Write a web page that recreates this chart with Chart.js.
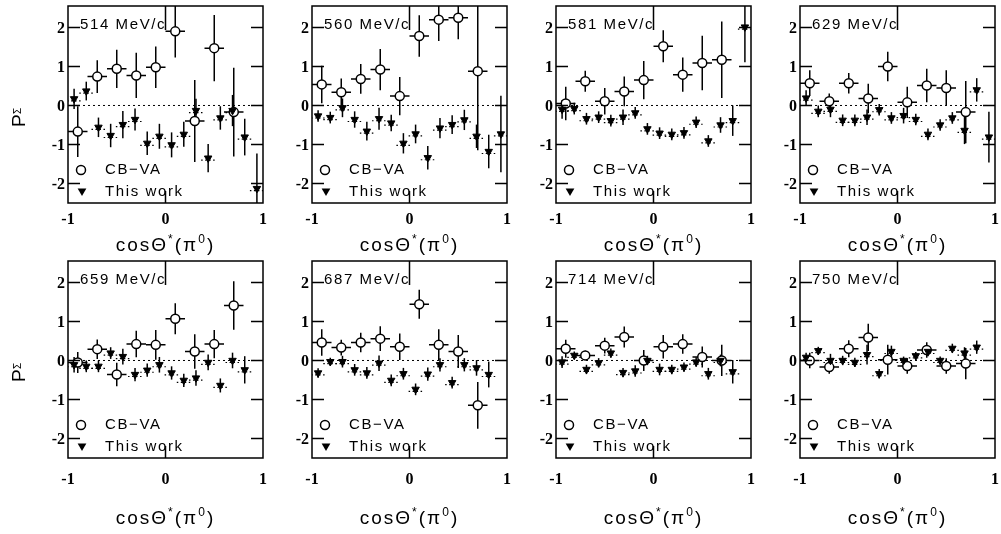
<!DOCTYPE html>
<html>
<head>
<meta charset="utf-8">
<script src="https://cdn.jsdelivr.net/npm/chart.js@4.4.1/dist/chart.umd.min.js"></script>
<style>
  html, body { margin: 0; padding: 0; background: #fff; }
  #page { position: relative; width: 1001px; height: 534px; overflow: hidden; background: #fff; }
  #page canvas { position: absolute; }
</style>
</head>
<body>
<div id="page"></div>
<script>
// bin centres in cos(theta*)
const cbX = [-0.9, -0.7, -0.5, -0.3, -0.1, 0.1, 0.3, 0.5, 0.7];
const twX = [-0.9375, -0.8125, -0.6875, -0.5625, -0.4375, -0.3125, -0.1875, -0.0625,
             0.0625, 0.1875, 0.3125, 0.4375, 0.5625, 0.6875, 0.8125, 0.9375];
const xTicks = [-1, 0, 1];
const yTicks = [-2, -1, 0, 1, 2];
const momenta = [514, 560, 581, 629, 659, 687, 714, 750];

// 514 MeV/c
const cbVa514 = [-0.67, 0.74, 0.94, 0.77, 0.98, 1.90, -0.40, 1.47, -0.17];
const cbVaErr514 = [0.65, 0.42, 0.49, 0.58, 0.53, 0.67, 1.05, 0.85, 1.14];
const thisWork514 = [0.17, 0.37, -0.56, -0.77, -0.49, -0.36, -0.97, -0.79, -1.01, -0.74, -0.13, -1.35, -0.32, -0.13, -0.81, -2.13];
const thisWorkErr514 = [0.26, 0.24, 0.25, 0.30, 0.35, 0.28, 0.30, 0.32, 0.32, 0.32, 0.30, 0.36, 0.30, 0.40, 0.47, 0.90];

// 560 MeV/c
const cbVa560 = [0.54, 0.34, 0.68, 0.92, 0.24, 1.78, 2.20, 2.25, 0.88];
const cbVaErr560 = [0.48, 0.35, 0.38, 0.53, 0.49, 0.53, 0.55, 0.55, 2.03];
const thisWork560 = [-0.27, -0.31, -0.06, -0.36, -0.66, -0.34, -0.45, -0.97, -0.73, -1.34, -0.58, -0.49, -0.37, -0.79, -1.18, -0.73];
const thisWorkErr560 = [0.15, 0.15, 0.24, 0.21, 0.24, 0.28, 0.21, 0.26, 0.24, 0.30, 0.26, 0.24, 0.26, 0.30, 0.43, 0.98];

// 581 MeV/c
const cbVa581 = [0.05, 0.62, 0.11, 0.36, 0.65, 1.52, 0.79, 1.09, 1.17];
const cbVaErr581 = [0.43, 0.27, 0.34, 0.38, 0.49, 0.41, 0.44, 0.70, 0.98];
const thisWork581 = [-0.10, -0.08, -0.34, -0.30, -0.39, -0.30, -0.19, -0.60, -0.71, -0.74, -0.70, -0.43, -0.91, -0.50, -0.39, 2.01];
const thisWorkErr581 = [0.24, 0.15, 0.15, 0.15, 0.15, 0.20, 0.15, 0.15, 0.15, 0.15, 0.15, 0.15, 0.15, 0.20, 0.39, 0.90];

// 629 MeV/c
const cbVa629 = [0.57, 0.11, 0.57, 0.18, 1.00, 0.08, 0.51, 0.45, -0.17];
const cbVaErr629 = [0.33, 0.20, 0.26, 0.38, 0.38, 0.40, 0.43, 0.45, 0.80];
const thisWork629 = [0.19, -0.15, -0.10, -0.38, -0.38, -0.30, -0.11, -0.32, -0.26, -0.36, -0.74, -0.50, -0.32, -0.64, 0.40, -0.81];
const thisWorkErr629 = [0.20, 0.15, 0.20, 0.15, 0.15, 0.20, 0.15, 0.15, 0.20, 0.15, 0.15, 0.15, 0.15, 0.35, 0.30, 0.65];

// 659 MeV/c
const cbVa659 = [-0.05, 0.29, -0.36, 0.42, 0.40, 1.07, 0.23, 0.42, 1.41];
const cbVaErr659 = [0.27, 0.25, 0.30, 0.34, 0.38, 0.40, 0.44, 0.36, 0.62];
const thisWork659 = [-0.11, -0.15, -0.15, 0.19, 0.10, -0.36, -0.25, -0.11, -0.32, -0.51, -0.45, -0.05, -0.64, 0.00, -0.24, null];
const thisWorkErr659 = [0.20, 0.15, 0.15, 0.15, 0.20, 0.17, 0.17, 0.20, 0.17, 0.17, 0.20, 0.20, 0.18, 0.20, 0.35, null];

// 687 MeV/c
const cbVa687 = [0.46, 0.33, 0.46, 0.56, 0.35, 1.44, 0.40, 0.23, -1.15];
const cbVaErr687 = [0.34, 0.20, 0.25, 0.32, 0.34, 0.37, 0.40, 0.42, 0.60];
const thisWork687 = [-0.32, -0.03, -0.03, -0.24, -0.32, -0.07, -0.51, -0.34, -0.74, -0.35, -0.11, -0.57, -0.11, -0.19, -0.36, null];
const thisWorkErr687 = [0.12, 0.10, 0.15, 0.15, 0.15, 0.20, 0.15, 0.15, 0.15, 0.17, 0.17, 0.15, 0.17, 0.20, 0.33, null];

// 714 MeV/c
const cbVa714 = [0.30, 0.13, 0.38, 0.60, 0.00, 0.35, 0.42, 0.09, 0.00];
const cbVaErr714 = [0.23, 0.12, 0.20, 0.27, 0.27, 0.30, 0.25, 0.27, 0.40];
const thisWork714 = [-0.04, 0.13, -0.23, -0.06, 0.19, -0.31, -0.27, 0.00, -0.23, -0.23, -0.17, -0.04, -0.34, 0.00, -0.29, null];
const thisWorkErr714 = [0.15, 0.10, 0.12, 0.12, 0.12, 0.12, 0.15, 0.12, 0.15, 0.12, 0.12, 0.12, 0.15, 0.15, 0.30, null];

// 750 MeV/c
const cbVa750 = [0.00, -0.17, 0.30, 0.59, 0.02, -0.14, 0.27, -0.14, -0.08];
const cbVaErr750 = [0.20, 0.17, 0.22, 0.35, 0.38, 0.20, 0.20, 0.20, 0.40];
const thisWork750 = [0.08, 0.25, 0.00, 0.00, -0.05, 0.15, -0.34, 0.23, 0.00, 0.12, 0.23, 0.00, 0.31, 0.19, 0.34, null];
const thisWorkErr750 = [0.12, 0.10, 0.17, 0.12, 0.12, 0.25, 0.12, 0.15, 0.10, 0.10, 0.12, 0.10, 0.12, 0.15, 0.17, null];

const panels = [
  [cbVa514, cbVaErr514, thisWork514, thisWorkErr514],
  [cbVa560, cbVaErr560, thisWork560, thisWorkErr560],
  [cbVa581, cbVaErr581, thisWork581, thisWorkErr581],
  [cbVa629, cbVaErr629, thisWork629, thisWorkErr629],
  [cbVa659, cbVaErr659, thisWork659, thisWorkErr659],
  [cbVa687, cbVaErr687, thisWork687, thisWorkErr687],
  [cbVa714, cbVaErr714, thisWork714, thisWorkErr714],
  [cbVa750, cbVaErr750, thisWork750, thisWorkErr750],
];

// page layout (frame positions in px)
const frameLeft = [68, 312, 556, 800];
const frameTop = [5, 260];
const frameW = 199;
const frameH = 198;
// distance below the frame for tick labels / axis title, per row
const tickLabelGap = [17, 22];
const titleGap = [48, 66];

const SANS = '"Liberation Sans", Arial, Helvetica, sans-serif';
const SERIF = '"Liberation Serif", "Times New Roman", serif';

function toPoints(xs, ys, errs) {
  const pts = [];
  xs.forEach((x, i) => {
    if (ys[i] !== null) pts.push({ x: x, y: ys[i], err: errs[i] });
  });
  return pts;
}

function setSpacing(ctx, px) {
  if ("letterSpacing" in ctx) ctx.letterSpacing = px + "px";
}

function drawDownTriangle(ctx, x, y, r) {
  ctx.beginPath();
  ctx.moveTo(x - r * 0.87, y - r * 0.5);
  ctx.lineTo(x + r * 0.87, y - r * 0.5);
  ctx.lineTo(x, y + r);
  ctx.closePath();
  ctx.fill();
}

// zero line + error bars, under the markers
const errorBars = {
  id: "errorBars",
  beforeDatasetsDraw(chart) {
    const { ctx, chartArea: a, scales } = chart;
    const x = scales.x;
    const y = scales.y;
    ctx.save();
    ctx.beginPath();
    ctx.rect(a.left, a.top, a.right - a.left, a.bottom - a.top);
    ctx.clip();

    const y0 = y.getPixelForValue(0);
    ctx.strokeStyle = "#000";
    ctx.lineWidth = 1;
    ctx.setLineDash([2, 3]);
    ctx.beginPath();
    ctx.moveTo(a.left, y0);
    ctx.lineTo(a.right, y0);
    ctx.stroke();
    ctx.setLineDash([]);

    chart.data.datasets.forEach((ds) => {
      ds.data.forEach((pt) => {
        const px = x.getPixelForValue(pt.x);
        const py = y.getPixelForValue(pt.y);
        ctx.lineWidth = 1.5;
        ctx.beginPath();
        ctx.moveTo(px, y.getPixelForValue(pt.y + pt.err));
        ctx.lineTo(px, y.getPixelForValue(pt.y - pt.err));
        if (ds.xErr) {
          ctx.moveTo(x.getPixelForValue(pt.x - ds.xErr), py);
          ctx.lineTo(x.getPixelForValue(pt.x + ds.xErr), py);
        }
        ctx.stroke();
        if (ds.sysDots) {
          ctx.lineWidth = 1.2;
          ctx.setLineDash([1.5, 2.5]);
          ctx.beginPath();
          ctx.moveTo(px - 7, py + 2);
          ctx.lineTo(px + 7, py + 2);
          ctx.stroke();
          ctx.setLineDash([]);
        }
      });
    });
    ctx.restore();
  },
};

// frame, inner ticks, labels, legend
const frameAxes = {
  id: "frameAxes",
  afterDraw(chart) {
    const { ctx, chartArea: a, scales } = chart;
    const x = scales.x;
    const y = scales.y;
    const opts = chart.options.plugins.frameAxes;
    ctx.save();
    ctx.strokeStyle = "#000";
    ctx.fillStyle = "#000";
    ctx.lineWidth = 1.5;
    ctx.strokeRect(a.left, a.top, a.right - a.left, a.bottom - a.top);

    ctx.beginPath();
    yTicks.forEach((v) => {
      const py = y.getPixelForValue(v);
      ctx.moveTo(a.left, py);
      ctx.lineTo(a.left + 12, py);
      ctx.moveTo(a.right - 12, py);
      ctx.lineTo(a.right, py);
    });
    xTicks.forEach((v) => {
      if (v <= -1 || v >= 1) return;
      const px = x.getPixelForValue(v);
      ctx.moveTo(px, a.top);
      ctx.lineTo(px, a.top + 24);
      ctx.moveTo(px, a.bottom - 12);
      ctx.lineTo(px, a.bottom);
    });
    ctx.stroke();

    // tick labels
    ctx.font = "bold 16px " + SERIF;
    ctx.textAlign = "right";
    ctx.textBaseline = "middle";
    yTicks.forEach((v) => {
      ctx.fillText(String(v), a.left - 3, y.getPixelForValue(v) + 1);
    });
    ctx.textAlign = "center";
    xTicks.forEach((v) => {
      ctx.fillText(String(v), x.getPixelForValue(v), a.bottom + tickLabelGap[opts.row]);
    });

    // momentum label
    ctx.font = "15px " + SANS;
    setSpacing(ctx, 1.6);
    ctx.textAlign = "left";
    ctx.textBaseline = "alphabetic";
    ctx.fillText(opts.momentum + " MeV/c", a.left + 12, a.top + 23);

    // legend
    ctx.textBaseline = "middle";
    ctx.font = "15px " + SANS;
    ctx.fillText("CB\u2212VA", a.left + 37, a.top + 164);
    ctx.fillText("This work", a.left + 37, a.top + 186);
    setSpacing(ctx, 0);
    ctx.lineWidth = 1.5;
    ctx.beginPath();
    ctx.arc(a.left + 13, a.top + 164, 4.5, 0, Math.PI * 2);
    ctx.fillStyle = "#fff";
    ctx.fill();
    ctx.stroke();
    ctx.fillStyle = "#000";
    drawDownTriangle(ctx, a.left + 14, a.top + 185, 5);

    // x title: cosΘ*(π0)
    const parts = [
      { t: "cos\u0398", s: 19, dy: 0 },
      { t: "*", s: 12, dy: -8 },
      { t: "(\u03c0", s: 19, dy: 0 },
      { t: "0", s: 12, dy: -8 },
      { t: ")", s: 19, dy: 0 },
    ];
    setSpacing(ctx, 2);
    let total = 0;
    parts.forEach((p) => {
      ctx.font = p.s + "px " + SANS;
      p.w = ctx.measureText(p.t).width;
      total += p.w;
    });
    let tx = (a.left + a.right) / 2 - total / 2;
    const ty = a.bottom + titleGap[opts.row];
    ctx.textAlign = "left";
    ctx.textBaseline = "alphabetic";
    parts.forEach((p) => {
      ctx.font = p.s + "px " + SANS;
      ctx.fillText(p.t, tx, ty + p.dy);
      tx += p.w;
    });
    setSpacing(ctx, 0);

    // y title: P with subscript Σ
    if (opts.yTitle) {
      ctx.translate(13, a.top + 108);
      ctx.rotate(-Math.PI / 2);
      ctx.font = "19px " + SANS;
      ctx.fillText("P", -13, 12);
      ctx.font = "10px " + SANS;
      ctx.fillText("\u03a3", 0, 8);
    }
    ctx.restore();
  },
};

const page = document.getElementById("page");

panels.forEach((series, k) => {
  const [cb, cbErr, tw, twErr] = series;
  const row = k < 4 ? 0 : 1;
  const col = k % 4;
  const left = col === 0 ? 0 : frameLeft[col] - 44;
  const top = row === 0 ? 0 : 255;
  const width = frameLeft[col] + frameW + 2 - left;
  const height = row === 0 ? 255 : 279;
  const padLeft = frameLeft[col] - left;
  const padTop = frameTop[row] - top;

  const canvas = document.createElement("canvas");
  canvas.width = width;
  canvas.height = height;
  canvas.style.left = left + "px";
  canvas.style.top = top + "px";
  canvas.style.width = width + "px";
  canvas.style.height = height + "px";
  page.appendChild(canvas);

  new Chart(canvas.getContext("2d"), {
    type: "scatter",
    data: {
      datasets: [
        {
          label: "This work",
          data: toPoints(twX, tw, twErr),
          pointStyle: "triangle",
          rotation: 180,
          pointRadius: 4.3,
          backgroundColor: "#000",
          borderColor: "#000",
          borderWidth: 1,
          sysDots: true,
        },
        {
          label: "CB-VA",
          data: toPoints(cbX, cb, cbErr),
          pointStyle: "circle",
          pointRadius: 4.5,
          backgroundColor: "#fff",
          borderColor: "#000",
          borderWidth: 1.5,
          xErr: 0.1,
        },
      ],
    },
    options: {
      responsive: false,
      animation: false,
      devicePixelRatio: 1,
      events: [],
      layout: {
        padding: {
          left: padLeft,
          top: padTop,
          right: width - padLeft - frameW,
          bottom: height - padTop - frameH,
        },
      },
      plugins: {
        legend: { display: false },
        tooltip: { enabled: false },
        frameAxes: { momentum: momenta[k], yTitle: col === 0, row: row },
      },
      scales: {
        x: { type: "linear", min: -1, max: 1, display: false },
        y: { type: "linear", min: -2.5, max: 2.55, display: false },
      },
    },
    plugins: [errorBars, frameAxes],
  });
});
</script>
</body>
</html>
